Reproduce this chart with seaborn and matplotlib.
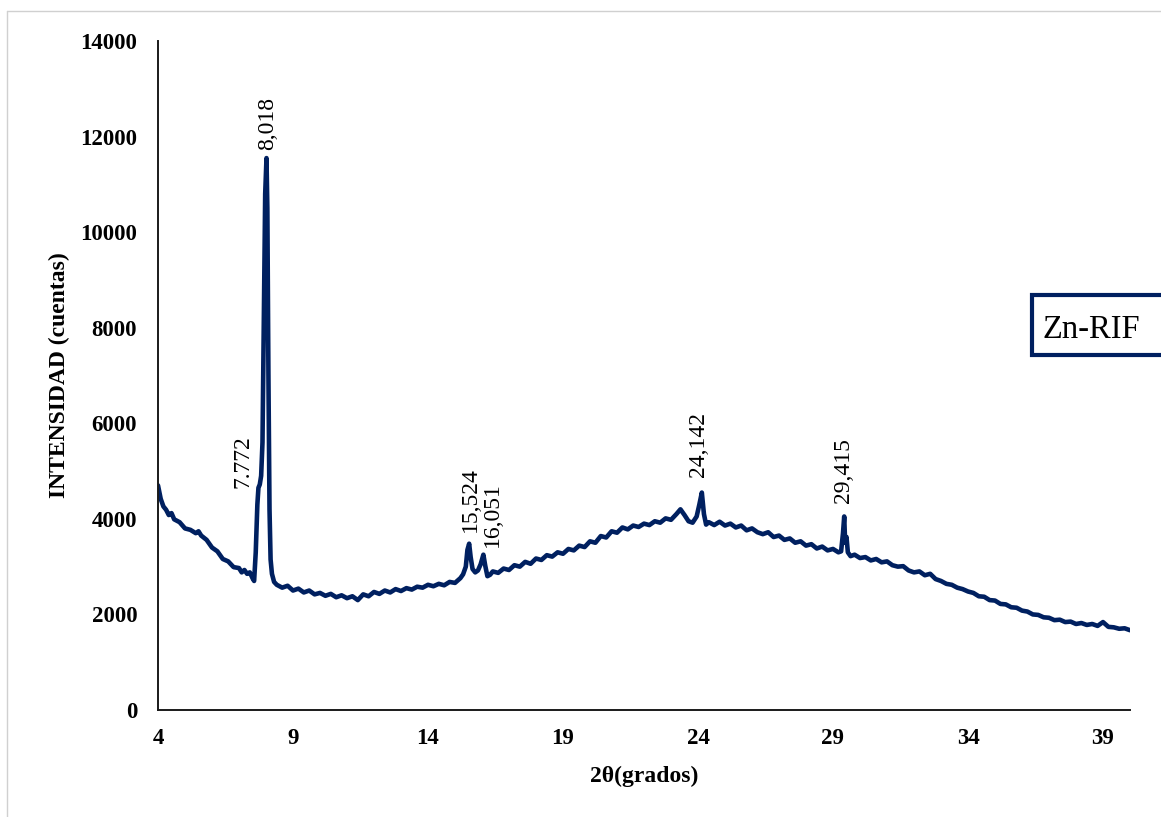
import matplotlib
matplotlib.use("Agg")
import matplotlib.pyplot as plt
import seaborn as sns
import pandas as pd
from matplotlib.patches import Rectangle
from matplotlib.lines import Line2D

# ---------------- data ----------------
two_theta = [
    4.0, 4.1, 4.2, 4.3, 4.4, 4.5, 4.6, 4.8, 5.0, 5.2, 5.4, 5.5, 5.6, 5.8, 6.0, 6.2,
    6.4, 6.6, 6.8, 7.0, 7.1, 7.2, 7.3, 7.4, 7.5, 7.56,
    7.62, 7.68, 7.72, 7.77, 7.82, 7.87, 7.92, 7.97, 8.018, 8.05, 8.09, 8.13, 8.17,
    8.22, 8.3, 8.4, 8.6, 8.8, 9.0, 9.2, 9.4, 9.6, 9.8, 10.0, 10.2, 10.4, 10.6, 10.8,
    11.0, 11.2, 11.4, 11.6, 11.8, 12.0, 12.2, 12.4, 12.6, 12.8, 13.0, 13.2, 13.4,
    13.6, 13.8, 14.0, 14.2, 14.4, 14.6, 14.8, 15.0, 15.2, 15.3, 15.4, 15.46, 15.524,
    15.58, 15.65, 15.75, 15.85, 15.95, 16.051, 16.12, 16.2, 16.3, 16.4, 16.6, 16.8,
    17.0, 17.2, 17.4, 17.6, 17.8, 18.0, 18.2, 18.4, 18.6, 18.8, 19.0, 19.2, 19.4,
    19.6, 19.8, 20.0, 20.2, 20.4, 20.6, 20.8, 21.0, 21.2, 21.4, 21.6, 21.8, 22.0,
    22.2, 22.4, 22.6, 22.8, 23.0, 23.2, 23.35, 23.5, 23.65, 23.8, 23.95, 24.05,
    24.142, 24.22, 24.3, 24.4, 24.6, 24.8, 25.0, 25.2, 25.4, 25.6, 25.8, 26.0, 26.2,
    26.4, 26.6, 26.8, 27.0, 27.2, 27.4, 27.6, 27.8, 28.0, 28.2, 28.4, 28.6, 28.8,
    29.0, 29.2, 29.3, 29.37, 29.415, 29.45, 29.5, 29.55, 29.65, 29.8, 30.0, 30.2,
    30.4, 30.6, 30.8, 31.0, 31.2, 31.4, 31.6, 31.8, 32.0, 32.2, 32.4, 32.6, 32.8,
    33.0, 33.2, 33.4, 33.6, 33.8, 34.0, 34.2, 34.4, 34.6, 34.8, 35.0, 35.2, 35.4,
    35.6, 35.8, 36.0, 36.2, 36.4, 36.6, 36.8, 37.0, 37.2, 37.4, 37.6, 37.8, 38.0,
    38.2, 38.4, 38.6, 38.8, 39.0, 39.2, 39.4, 39.6, 39.8, 40.0,
]
intensity = [
    4700, 4420, 4260, 4190, 4080, 4120, 3990, 3930, 3800, 3770, 3700, 3740, 3650,
    3560, 3400, 3320, 3160, 3110, 2990, 2970, 2880, 2930, 2850, 2880, 2760, 2700,
    3300, 4300, 4650, 4720, 4900, 5600, 8200, 10800, 11550, 10500, 7000, 4200, 3150,
    2850, 2680, 2620, 2560, 2600, 2500, 2540, 2460, 2500, 2420, 2450, 2390, 2430,
    2360, 2400, 2340, 2380, 2300, 2420, 2380, 2470, 2430, 2500, 2460, 2530, 2490,
    2550, 2520, 2580, 2560, 2620, 2590, 2640, 2610, 2680, 2660, 2760, 2840, 3000,
    3350, 3480, 3200, 2950, 2880, 2920, 3050, 3250, 3020, 2800, 2830, 2900, 2870,
    2960, 2930, 3030, 3000, 3100, 3060, 3170, 3140, 3240, 3210, 3300, 3270, 3370,
    3340, 3440, 3410, 3530, 3500, 3640, 3610, 3740, 3710, 3820, 3780, 3860, 3830,
    3900, 3870, 3950, 3920, 4010, 3980, 4100, 4200, 4080, 3950, 3920, 4050, 4300,
    4550, 4100, 3880, 3930, 3870, 3940, 3860, 3900, 3820, 3860, 3760, 3800, 3720,
    3680, 3720, 3620, 3650, 3560, 3590, 3500, 3530, 3440, 3470, 3380, 3420, 3340,
    3370, 3300, 3320, 3700, 4050, 3500, 3620, 3300, 3220, 3250, 3180, 3200, 3130,
    3160, 3090, 3110, 3030, 3000, 3010, 2920, 2880, 2900, 2820, 2850, 2740, 2700,
    2640, 2620, 2560, 2530, 2480, 2450, 2380, 2370, 2300, 2290, 2220, 2210, 2150,
    2140, 2080, 2060, 2000, 1990, 1940, 1930, 1880, 1890, 1840, 1850, 1800, 1820,
    1780, 1800, 1760, 1840, 1740, 1730, 1700, 1710, 1670,
]

x_ticks = [4, 9, 14, 19, 24, 29, 34, 39]
y_ticks = [0, 2000, 4000, 6000, 8000, 10000, 12000, 14000]

peak_labels = ["7.772", "8,018", "15,524", "16,051", "24,142", "29,415"]
label_x = [7.13, 8.07, 15.56, 16.37, 24.03, 29.40]
label_y = [4650, 11720, 3725, 3410, 4877, 4330]

series_name = "Zn-RIF"
x_title = "2θ(grados)"
y_title = "INTENSIDAD (cuentas)"

# ---------------- style ----------------
sns.set_style("white")
plt.rcParams["font.family"] = ["Liberation Serif", "DejaVu Serif"]
plt.rcParams["text.color"] = "black"
plt.rcParams["axes.labelcolor"] = "black"
plt.rcParams["xtick.color"] = "black"
plt.rcParams["ytick.color"] = "black"

W, H = 1161, 817
fig = plt.figure(figsize=(W / 100, H / 100), dpi=100)
ax = fig.add_axes([158 / W, 1 - 710 / H, (1130 - 158) / W, (710 - 41) / H])

line_color = "#002060"
df = pd.DataFrame({"x": two_theta, "y": intensity})
sns.lineplot(data=df, x="x", y="y", ax=ax, color=line_color, linewidth=3.3,
             sort=False, estimator=None)

ax.set_xlim(4, 40)
ax.set_ylim(0, 14000)
ax.set_xticks(x_ticks)
ax.set_yticks(y_ticks)
ax.set_xticklabels([str(t) for t in x_ticks], fontsize=16.5, fontweight="bold", color="black")
ax.set_yticklabels([str(t) for t in y_ticks], fontsize=16.5, fontweight="bold", color="black")
ax.tick_params(axis="both", length=0)
ax.tick_params(axis="y", pad=15)
ax.tick_params(axis="x", pad=13)

for side in ["top", "right"]:
    ax.spines[side].set_visible(False)
for side in ["left", "bottom"]:
    ax.spines[side].set_color("#1a1a1a")
    ax.spines[side].set_linewidth(1.4)

ax.set_xlabel(x_title, fontsize=17, fontweight="bold", labelpad=12, color="black")
ax.set_ylabel(y_title, fontsize=17, fontweight="bold", labelpad=7, color="black")
ax.grid(False)

for txt, lx, ly in zip(peak_labels, label_x, label_y):
    ax.text(lx, ly, txt, rotation=90, ha="center", va="bottom", fontsize=17,
            color="black")

# legend-like box at the right (clipped by figure edge)
rect = Rectangle((1032 / W, 1 - 355 / H), 150 / W, 60 / H, transform=fig.transFigure,
                 facecolor="white", edgecolor=line_color, linewidth=3.0, zorder=5)
fig.patches.append(rect)
fig.text(1042 / W, 1 - 338 / H, series_name, fontsize=23.5, ha="left", va="baseline",
         color="black", zorder=6)

# faint chart-area border (top and left)
fig.add_artist(Line2D([6.5 / W, 1], [1 - 10.5 / H, 1 - 10.5 / H], transform=fig.transFigure,
                      color="#d0d0d0", linewidth=1.0))
fig.add_artist(Line2D([6.5 / W, 6.5 / W], [0, 1 - 10.5 / H], transform=fig.transFigure,
                      color="#d0d0d0", linewidth=1.0))

fig.savefig("out.png", dpi=100)
